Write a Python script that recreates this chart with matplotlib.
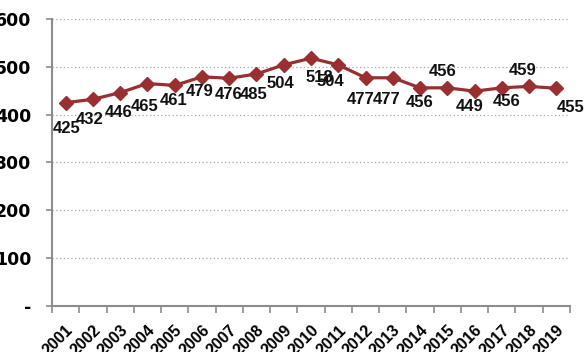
import matplotlib

matplotlib.use('Agg')
import matplotlib.pyplot as plt

years = [str(y) for y in range(2001, 2020)]
values = [425, 432, 446, 465, 461, 479, 476, 485, 504, 518,
          504, 477, 477, 456, 456, 449, 456, 459, 455]
y_ticks = [0, 100, 200, 300, 400, 500, 600]
y_tick_labels = ['-', '100', '200', '300', '400', '500', '600']

# label offsets in pixels (x right, y up) so the numbers don't collide
label_offsets = [(1, -26), (-3, -20), (-2, -20), (-3, -23), (-1, -15), (-2, -15),
                 (-1, -16), (-3, -21), (-3, -19), (8, -19), (-8, -17), (-5, -22),
                 (-6, -22), (0, -15), (-5, 16), (-5, -15), (5, -14), (-6, 16), (14, -19)]

line_color = '#9a2f31'
axis_color = '#8c8c8c'


def main():
    fig = plt.figure(figsize=(5.86, 3.52), dpi=100)
    ax = fig.add_axes([0.0887, 0.1307, 0.884, 0.8155])

    x = list(range(len(years)))
    ax.plot(x, values, color=line_color, lw=2.3, marker='D', ms=7,
            markeredgecolor=line_color, zorder=3, clip_on=False)

    for xi, v, (dx, dy) in zip(x, values, label_offsets):
        ax.annotate(str(v), (xi, v), xytext=(dx, dy), textcoords='offset pixels',
                    ha='center', va='center', fontsize=12, fontweight='bold',
                    family='Liberation Sans', color='#111111')

    ax.set_xlim(-0.5, len(years) - 0.5)
    ax.set_ylim(0, 600)

    # category boundaries get the tick marks, labels sit at the centres
    ax.set_xticks([i - 0.5 for i in range(len(years) + 1)])
    ax.set_xticklabels([])
    ax.set_xticks(x, minor=True)
    ax.set_xticklabels(years, minor=True, rotation=45, ha='right', va='top',
                       rotation_mode='anchor', fontsize=11.5, fontweight='bold',
                       family='Liberation Sans')
    ax.tick_params(axis='x', which='major', length=5, width=1.2, color=axis_color)
    ax.tick_params(axis='x', which='minor', length=0, pad=12)

    ax.set_yticks(y_ticks)
    ax.set_yticklabels(y_tick_labels, fontsize=12.5, fontweight='bold', family='DejaVu Sans')
    ax.tick_params(axis='y', length=4, width=1.2, color=axis_color, pad=11)

    ax.yaxis.grid(True, linestyle=(0, (1, 2)), color='#a6a6a6', lw=0.9)
    ax.set_axisbelow(True)

    for side in ('top', 'right'):
        ax.spines[side].set_visible(False)
    for side in ('left', 'bottom'):
        ax.spines[side].set_color(axis_color)
        ax.spines[side].set_linewidth(1.5)

    fig.savefig('out.png', dpi=100)


if __name__ == '__main__':
    main()
